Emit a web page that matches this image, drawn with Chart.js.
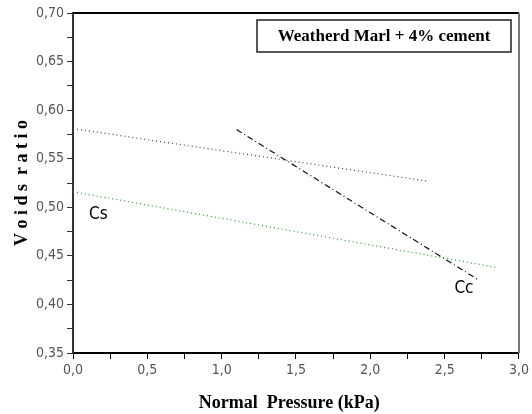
<!DOCTYPE html>
<html>
<head>
<meta charset="utf-8">
<script src="https://cdn.jsdelivr.net/npm/chart.js@4"></script>
<style>
  html, body { margin: 0; padding: 0; background: #fff; }
  #wrap { width: 532px; height: 414px; }
</style>
</head>
<body>
<div id="wrap"><canvas id="chart"></canvas></div>
<script>
// values
const upperX = [0.0, 2.38];
const upperY = [0.581, 0.527];
const csX = [0.0, 2.85];
const csY = [0.516, 0.438];
const ccX = [1.10, 2.73];
const ccY = [0.580, 0.425];

const labelText = ["Cs", "Cc"];
const labelX = [0.17, 2.63];
const labelY = [0.492, 0.416];

const boxText = "Weatherd Marl + 4% cement";

function pts(xs, ys) {
  return xs.map((x, i) => ({ x: x, y: ys[i] }));
}

const narrow = "'Liberation Sans Narrow', 'DejaVu Sans Condensed', sans-serif";
const tickFont = { family: narrow, size: 14 };
const titleFont = { family: "'Liberation Serif', 'DejaVu Serif', serif", size: 18, weight: "bold" };

const decor = {
  id: "decor",
  afterDraw(chart) {
    const ctx = chart.ctx;
    const a = chart.chartArea;
    const xs = chart.scales.x, ys = chart.scales.y;
    ctx.save();
    // frame top/right
    ctx.strokeStyle = "#000";
    ctx.lineWidth = 2;
    ctx.beginPath();
    ctx.moveTo(a.left, a.top);
    ctx.lineTo(a.right, a.top);
    ctx.stroke();
    ctx.strokeStyle = "#777";
    ctx.beginPath();
    ctx.moveTo(a.right, a.top);
    ctx.lineTo(a.right, a.bottom);
    ctx.stroke();
    // text labels
    ctx.fillStyle = "#000";
    ctx.font = "17px " + narrow;
    ctx.textAlign = "center";
    ctx.textBaseline = "middle";
    for (let i = 0; i < labelText.length; i++) {
      ctx.fillText(labelText[i], xs.getPixelForValue(labelX[i]), ys.getPixelForValue(labelY[i]));
    }
    // legend box
    const bx = a.left + 184, by = a.top + 7, bw = 254, bh = 32;
    ctx.lineWidth = 1.5;
    ctx.strokeStyle = "#222";
    ctx.strokeRect(bx, by, bw, bh);
    ctx.font = "bold 17px 'Liberation Serif', 'DejaVu Serif', serif";
    ctx.fillText(boxText, bx + bw / 2, by + bh / 2 + 1);
    ctx.restore();
  }
};

new Chart(document.getElementById("chart"), {
  type: "scatter",
  data: {
    datasets: [
      {
        data: pts(upperX, upperY),
        showLine: true,
        borderColor: "#444",
        borderWidth: 1.2,
        borderDash: [1, 3],
        pointRadius: 0
      },
      {
        data: pts(csX, csY),
        showLine: true,
        borderColor: "#2a9a2a",
        borderWidth: 1.2,
        borderDash: [1, 3],
        pointRadius: 0
      },
      {
        data: pts(ccX, ccY),
        showLine: true,
        borderColor: "#111",
        borderWidth: 1.2,
        borderDash: [6, 3, 1, 3],
        pointRadius: 0
      }
    ]
  },
  plugins: [decor],
  options: {
    animation: false,
    responsive: true,
    maintainAspectRatio: false,
    layout: { padding: { top: 13, right: 13, left: 0, bottom: 0 } },
    plugins: { legend: { display: false }, tooltip: { enabled: false } },
    scales: {
      x: {
        type: "linear",
        min: 0,
        max: 3,
        afterFit(s) { s.height = 61; },
        ticks: {
          stepSize: 0.25,
          autoSkip: false,
          maxRotation: 0,
          color: "#555",
          font: tickFont,
          padding: 3,
          callback: v => (Math.abs(v * 2 - Math.round(v * 2)) < 1e-6) ? v.toFixed(1).replace(".", ",") : ""
        },
        grid: { drawOnChartArea: false, tickLength: 6, color: "#000", tickColor: "#000" },
        border: { color: "#000", width: 2 },
        title: { display: true, text: "Normal  Pressure (kPa)   ", color: "#000", font: titleFont, padding: { top: 6, bottom: 0 } }
      },
      y: {
        type: "linear",
        min: 0.35,
        max: 0.70,
        afterFit(s) { s.width = 73; },
        ticks: {
          stepSize: 0.025,
          autoSkip: false,
          color: "#555",
          font: tickFont,
          padding: 3,
          callback: v => (Math.abs(v * 20 - Math.round(v * 20)) < 1e-6) ? v.toFixed(2).replace(".", ",") : ""
        },
        grid: { drawOnChartArea: false, tickLength: 6, color: "#333", tickColor: "#333" },
        border: { color: "#333", width: 2 },
        title: { display: true, text: "V o i d s  r a t i o", color: "#000", font: titleFont, padding: { top: 12, bottom: 0 } }
      }
    }
  }
});
</script>
</body>
</html>
